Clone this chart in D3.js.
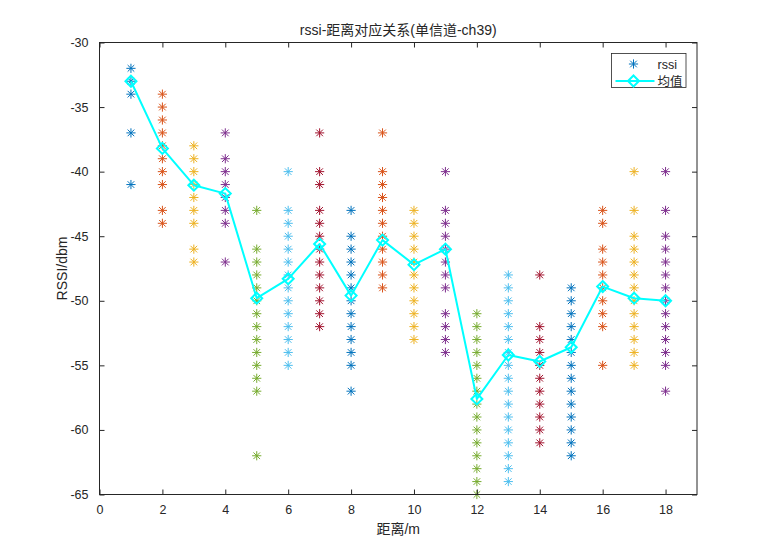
<!DOCTYPE html>
<html>
<head>
<meta charset="utf-8">
<script src="https://cdn.jsdelivr.net/npm/d3@7"></script>
<style>
  html, body { margin: 0; padding: 0; background: #fff; }
  svg text { font-family: "Liberation Sans", Arial, "Noto Sans CJK SC", sans-serif; fill: #262626; }
</style>
</head>
<body>
<svg id="chart" width="770" height="556"></svg>
<script>
/* ---- data ---- */
const distances = [1, 2, 3, 4, 5, 6, 7, 8, 9, 10, 11, 12, 13, 14, 15, 16, 17, 18];

const rssiByDistance = [
  [-32, -33, -34, -37, -41],
  [-34, -35, -36, -37, -38, -39, -40, -41, -43, -44],
  [-38, -39, -40, -41, -42, -43, -44, -46, -47],
  [-37, -39, -40, -41, -42, -43, -44, -47],
  [-43, -46, -47, -48, -49, -50, -51, -52, -53, -54, -55, -56, -57, -62],
  [-40, -43, -44, -45, -46, -47, -48, -49, -50, -51, -52, -53, -54, -55],
  [-37, -40, -41, -43, -44, -45, -46, -47, -48, -49, -50, -51, -52],
  [-43, -45, -46, -47, -48, -49, -50, -51, -52, -53, -54, -55, -57],
  [-37, -40, -41, -42, -43, -44, -45, -46, -47, -48, -49],
  [-43, -44, -45, -46, -47, -48, -49, -50, -51, -52, -53],
  [-40, -43, -44, -45, -46, -47, -48, -49, -51, -52, -53, -54],
  [-51, -52, -53, -54, -55, -56, -57, -58, -59, -60, -61, -62, -63, -64, -65],
  [-48, -49, -50, -51, -52, -53, -54, -55, -56, -57, -58, -59, -60, -61, -62, -63, -64],
  [-48, -52, -53, -54, -55, -56, -57, -58, -59, -60, -61],
  [-49, -50, -51, -52, -53, -54, -55, -56, -57, -58, -59, -60, -61, -62],
  [-43, -44, -46, -47, -48, -49, -50, -51, -52, -55],
  [-40, -43, -45, -46, -47, -48, -49, -50, -51, -52, -53, -54, -55],
  [-40, -43, -45, -46, -47, -48, -49, -50, -51, -52, -53, -54, -55, -57]
];

const meanRssi = [-33, -38.2, -41.05, -41.7, -49.8, -48.3, -45.6, -49.6, -45.3,
                  -47.2, -46, -57.6, -54.2, -54.7, -53.6, -48.9, -49.8, -50];

const xTicks = [0, 2, 4, 6, 8, 10, 12, 14, 16, 18];
const yTicks = [-30, -35, -40, -45, -50, -55, -60, -65];
const colorOrder = ["#0072BD", "#D95319", "#EDB120", "#7E2F8E", "#77AC30", "#4DBEEE", "#A2142F"];

/* ---- layout ---- */
const L = 99.5, R = 697, T = 42.5, B = 494.5;
const INK = "#262626";
const svg = d3.select("#chart");

const x = d3.scaleLinear().domain([0, 19]).range([L, R]);
const y = d3.scaleLinear().domain([-65, -30]).range([B, T]);

// '*' marker: + with an x over it
const starPath = (r) => {
  const d = r * 0.72;
  return `M${-r},0H${r}M0,${-r}V${r}M${-d},${-d}L${d},${d}M${-d},${d}L${d},${-d}`;
};
const diamondPath = (r) => `M0,${-r}L${r},0L0,${r}L${-r},0Z`;

/* ---- scatter ---- */
const pts = [];
distances.forEach((dist, i) => {
  rssiByDistance[i].forEach(v => pts.push({ d: dist, v, c: colorOrder[i % colorOrder.length] }));
});

svg.append("g").selectAll("path")
  .data(pts)
  .join("path")
  .attr("transform", p => `translate(${x(p.d)},${y(p.v)})`)
  .attr("d", starPath(4.6))
  .attr("fill", "none")
  .attr("stroke", p => p.c)
  .attr("stroke-width", 1);

/* ---- mean line ---- */
const meanData = distances.map((d, i) => ({ d, v: meanRssi[i] }));
svg.append("path")
  .datum(meanData)
  .attr("fill", "none")
  .attr("stroke", "#00FFFF")
  .attr("stroke-width", 2)
  .attr("stroke-linejoin", "round")
  .attr("d", d3.line().x(p => x(p.d)).y(p => y(p.v)));

svg.append("g").selectAll("path")
  .data(meanData)
  .join("path")
  .attr("transform", p => `translate(${x(p.d)},${y(p.v)})`)
  .attr("d", diamondPath(5.5))
  .attr("fill", "none")
  .attr("stroke", "#00FFFF")
  .attr("stroke-width", 2);

/* ---- axes ---- */
const fmt = v => String(v);   // plain hyphen minus, like the original
const tickStyle = g => {
  g.select(".domain").remove();
  g.selectAll(".tick line").attr("stroke", INK);
  g.selectAll(".tick text").attr("font-size", 12.5).attr("fill", INK);
};

svg.append("g").attr("transform", `translate(0,${B})`)
  .call(d3.axisBottom(x).tickValues(xTicks).tickFormat(fmt).tickSizeInner(-5).tickPadding(11))
  .call(tickStyle);
svg.append("g").attr("transform", `translate(0,${T})`)
  .call(d3.axisTop(x).tickValues(xTicks).tickFormat("").tickSizeInner(-5))
  .call(tickStyle);
svg.append("g").attr("transform", `translate(${L},0)`)
  .call(d3.axisLeft(y).tickValues(yTicks).tickFormat(fmt).tickSizeInner(-5).tickPadding(11))
  .call(tickStyle);
svg.append("g").attr("transform", `translate(${R},0)`)
  .call(d3.axisRight(y).tickValues(yTicks).tickFormat("").tickSizeInner(-5))
  .call(tickStyle);

svg.append("rect")
  .attr("x", L).attr("y", T).attr("width", R - L).attr("height", B - T)
  .attr("fill", "none").attr("stroke", INK).attr("stroke-width", 1);

/* ---- labels ---- */
svg.append("text")
  .attr("x", (L + R) / 2).attr("y", 35)
  .attr("text-anchor", "middle").attr("font-size", 14)
  .text("rssi-距离对应关系(单信道-ch39)");

svg.append("text")
  .attr("x", (L + R) / 2).attr("y", 534)
  .attr("text-anchor", "middle").attr("font-size", 14)
  .text("距离/m");

svg.append("text")
  .attr("transform", `translate(67,${(T + B) / 2}) rotate(-90)`)
  .attr("text-anchor", "middle").attr("font-size", 14)
  .text("RSSI/dbm");

/* ---- legend ---- */
const lg = svg.append("g").attr("transform", "translate(611.5,53.5)");
lg.append("rect").attr("width", 74.5).attr("height", 34)
  .attr("fill", "#fff").attr("stroke", INK).attr("stroke-width", 0.8);
lg.append("path").attr("transform", "translate(22,10.5)")
  .attr("d", starPath(4.6)).attr("fill", "none")
  .attr("stroke", colorOrder[0]).attr("stroke-width", 1);
lg.append("text").attr("x", 46).attr("y", 15).attr("font-size", 12.5).text("rssi");
lg.append("line").attr("x1", 4).attr("x2", 43).attr("y1", 27.5).attr("y2", 27.5)
  .attr("stroke", "#00FFFF").attr("stroke-width", 2);
lg.append("path").attr("transform", "translate(22,27.5)")
  .attr("d", diamondPath(5.5)).attr("fill", "none")
  .attr("stroke", "#00FFFF").attr("stroke-width", 2);
lg.append("text").attr("x", 46).attr("y", 32).attr("font-size", 12.5).text("均值");
</script>
</body>
</html>
